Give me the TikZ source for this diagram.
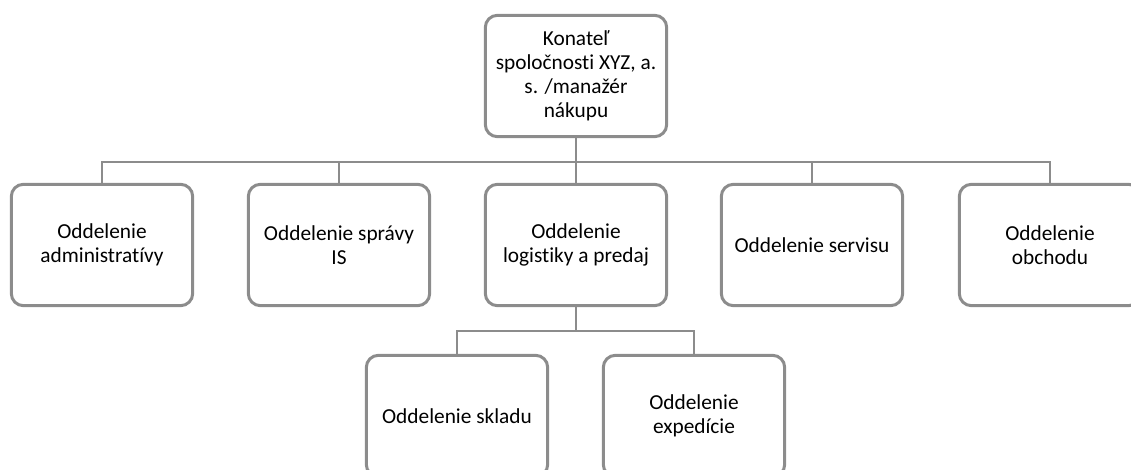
\documentclass[tikz,border=0pt]{standalone}
\usepackage{fontspec}
\setmainfont[Ligatures=NoCommon]{Carlito}
\usepackage{tikz}
\definecolor{linegray}{RGB}{140,140,140}
\tikzstyle{box} = [draw=linegray, line width=2.25pt, rounded corners=9pt, fill=white, minimum width=136pt, minimum height=91pt, align=center, font=\fontsize{16}{18}\selectfont]
\tikzstyle{link} = [draw=linegray, line width=1.5pt]

\begin{document}
\begin{tikzpicture}[x=0.75pt, y=-0.75pt]
	\path[use as bounding box, clip](0,0) rectangle (1131,470);

	\node[box](head) at (576, 76){Konateľ\\spoločnosti XYZ, a.\\s. /manažér\\nákupu};

	\node[box](adm) at (102, 245){Oddelenie\\administratívy};
	\node[box](is) at (339, 245){Oddelenie správy\\IS};
	\node[box](log) at (576, 245){Oddelenie\\logistiky a predaj};
	\node[box](serv) at (812, 245){Oddelenie servisu};
	\node[box](obch) at (1050, 245){Oddelenie\\obchodu};

	\node[box](sklad) at (457, 416){Oddelenie skladu};
	\node[box](exp) at (694, 416){Oddelenie\\expedície};

	\draw[link](head.south) -- ++(0,24) -| (adm.north);
	\draw[link](head.south) -- ++(0,24) -| (is.north);
	\draw[link](head.south) -- (log.north);
	\draw[link](head.south) -- ++(0,24) -| (serv.north);
	\draw[link](head.south) -- ++(0,24) -| (obch.north);

	\draw[link](log.south) -- ++(0,24) -| (sklad.north);
	\draw[link](log.south) -- ++(0,24) -| (exp.north);
\end{tikzpicture}
\end{document}
